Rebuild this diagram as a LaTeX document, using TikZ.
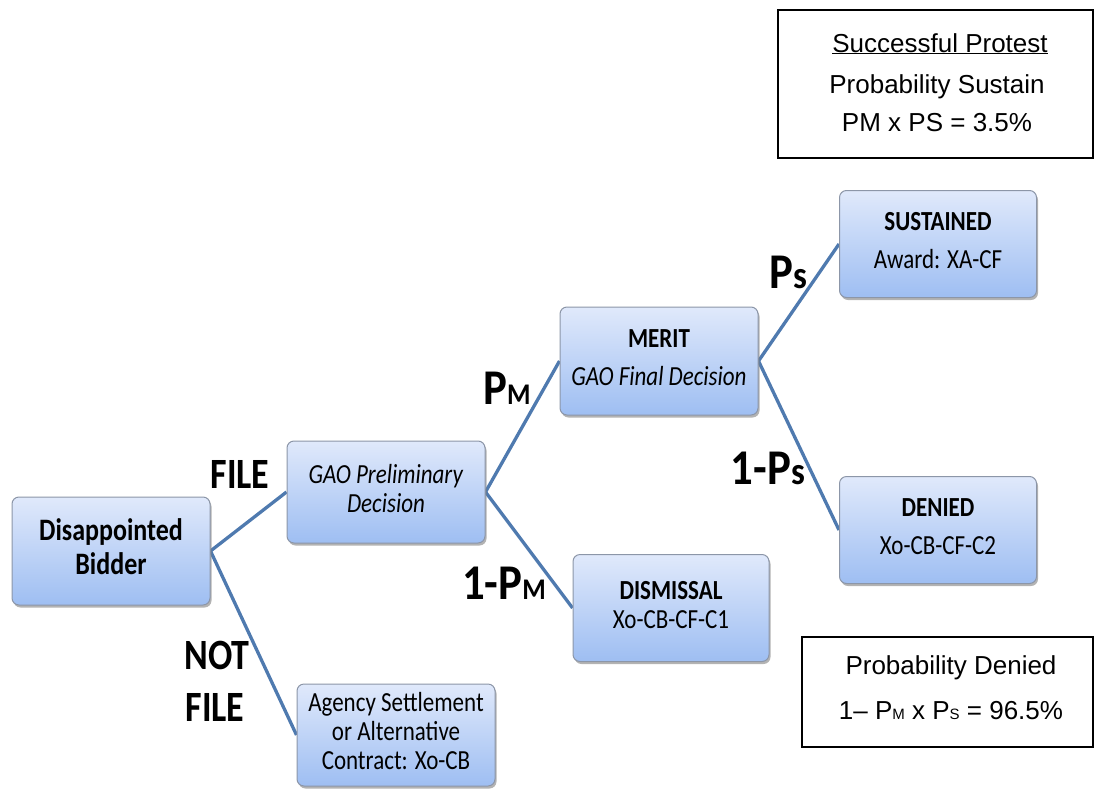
\documentclass[tikz,border=0pt]{standalone}
\usepackage{fontspec}
\setmainfont{Liberation Sans}
\newfontfamily\calfont{Carlito}
\usepackage{graphicx}
\usetikzlibrary{shadows,backgrounds}
\definecolor{boxtop}{RGB}{224,233,251}
\definecolor{boxbot}{RGB}{158,190,242}
\definecolor{boxline}{RGB}{140,150,168}
\definecolor{branchc}{RGB}{79,122,175}
\newcommand\vs[1]{\scalebox{1}[1.2]{\begin{tabular}{@{}c@{}}#1\end{tabular}}}
\newcommand\vsc[1]{\scalebox{1}[1.2]{#1}}
\newcommand\vsp[1]{\scalebox{1.12}[1.25]{#1}}
\tikzset{
  box/.style={rounded corners=7pt, draw=boxline, line width=1pt,
    top color=boxtop, bottom color=boxbot, inner sep=0pt,
    drop shadow={shadow xshift=1.5pt, shadow yshift=-2.5pt, fill=black!50, opacity=0.6},
    font=\calfont\fontsize{23}{24}\selectfont},
  branch/.style={draw=branchc, line width=3.3pt},
  lbl/.style={inner sep=0pt, font=\calfont\bfseries\fontsize{36}{36}\selectfont},
  plbl/.style={inner sep=0pt, font=\calfont\bfseries\fontsize{40}{40}\selectfont},
  infobox/.style={draw=black, line width=1.3pt, inner sep=0pt},
  info/.style={inner sep=0pt, anchor=base, font=\fontsize{26}{28}\selectfont}
}
\begin{document}
\begin{tikzpicture}[x=1pt,y=-1pt]
\useasboundingbox (0,0) rectangle (1095,790);

% tree boxes
\node[box, minimum width=198pt, minimum height=108pt,
  font=\calfont\bfseries\fontsize{26}{28}\selectfont] (db) at (111,551) {\vs{Disappointed\\Bidder}};
\node[box, minimum width=198pt, minimum height=102pt] (prelim) at (386,492) {\vs{\textit{GAO Preliminary}\\\textit{Decision}}};
\node[box, minimum width=198pt, minimum height=102pt] (agency) at (396,735) {\vs{Agency Settlement\\or Alternative\\Contract: Xo-CB}};
\node[box, minimum width=198pt, minimum height=108pt] (merit) at (659,361) {\vs{\textbf{MERIT}\\[8pt]\textit{GAO Final Decision}}};
\node[box, minimum width=196pt, minimum height=107pt] (dismiss) at (671,608) {\vs{\textbf{DISMISSAL}\\Xo-CB-CF-C1}};
\node[box, minimum width=197pt, minimum height=107pt] (sust) at (938,244) {\vs{\textbf{SUSTAINED}\\[8pt]Award: XA-CF}};
\node[box, minimum width=197pt, minimum height=107pt] (denied) at (938,530) {\vs{\textbf{DENIED}\\[8pt]Xo-CB-CF-C2}};

% branches
\begin{scope}[on background layer]
\draw[branch] (db.east) -- (prelim.west);
\draw[branch] (db.east) -- (agency.west);
\draw[branch] (prelim.east) -- (merit.west);
\draw[branch] (prelim.east) -- (dismiss.west);
\draw[branch] (merit.east) -- (sust.west);
\draw[branch] (merit.east) -- (denied.west);
\end{scope}

% branch labels
\node[lbl] (lfile) at (240,474) {\vsc{FILE}};
\node[lbl] (lnot) at (217,655) {\vsc{NOT}};
\node[lbl] (lnotfile) at (215,707) {\vsc{FILE}};
\node[plbl] (lpm) at (507,388) {\vsp{P{\fontsize{24}{24}\selectfont M}}};
\node[plbl] (l1pm) at (504,583) {\vsp{1-P{\fontsize{24}{24}\selectfont M}}};
\node[plbl] (lps) at (788,272) {\vsp{P{\fontsize{31}{31}\selectfont s}}};
\node[plbl] (l1ps) at (768,468) {\vsp{1-P{\fontsize{31}{31}\selectfont s}}};

% info boxes
\node[infobox, minimum width=315pt, minimum height=148pt] (sbox) at (935.5,84) {};
\node[info] (s1) at (940,52) {\underline{Successful Protest}};
\node[info] (s2) at (937,93) {Probability Sustain};
\node[info] (s3) at (937,131) {PM x PS = 3.5\%};

\node[infobox, minimum width=291pt, minimum height=110pt] (dbox) at (947.5,692) {};
\node[info] (d1) at (951,674) {Probability Denied};
\node[info] (d2) at (951,719) {1\textendash{} P{\fontsize{15}{15}\selectfont M} x P{\fontsize{15}{15}\selectfont S} = 96.5\%};
\end{tikzpicture}
\end{document}
